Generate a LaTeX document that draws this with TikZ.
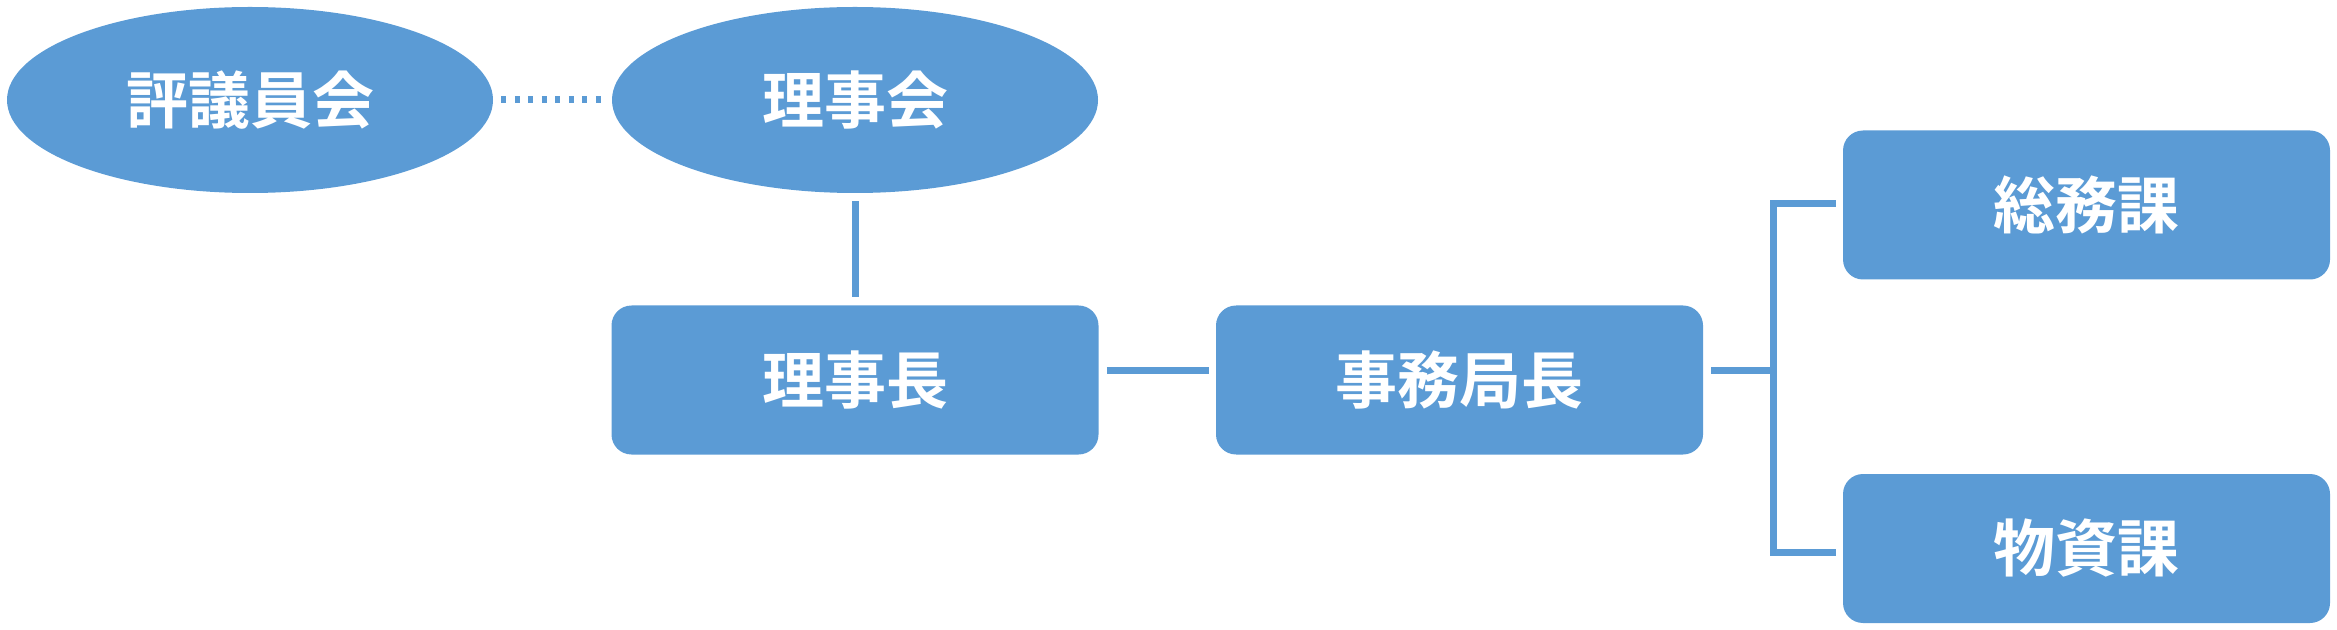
\documentclass[tikz,border=0pt]{standalone}
\usepackage{fontspec}
\newfontfamily\cjk{Noto Sans CJK JP Bold}
\usetikzlibrary{shapes.geometric}
\definecolor{obl}{HTML}{5B9BD5}
\begin{document}
\begin{tikzpicture}[x=0.5pt,y=-0.5pt,
  oval/.style={ellipse,fill=obl,draw=none,inner sep=0pt,minimum width=243pt,minimum height=93pt,text=white,font=\cjk\fontsize{31pt}{31pt}\selectfont},
  rbox/.style={rectangle,rounded corners=10pt,fill=obl,draw=none,inner sep=0pt,minimum width=243.5pt,minimum height=74.5pt,text=white,font=\cjk\fontsize{31pt}{31pt}\selectfont},
  conn/.style={draw=obl,line width=3.5pt},
  dotconn/.style={draw=obl,line width=3.5pt,dash pattern=on 2.4pt off 4.35pt}]
\useasboundingbox (0,0) rectangle (2337,630);
\node[oval] (hy) at (250,100) {評議員会};
\node[oval] (ri) at (855,100) {理事会};
\node[rbox] (rc) at (855,380) {理事長};
\node[rbox] (jm) at (1459.5,380) {事務局長};
\node[rbox] (sm) at (2086.5,205) {総務課};
\node[rbox] (bs) at (2086.5,548.5) {物資課};
\coordinate (j) at (1773,370);
\coordinate (ta) at ([xshift=-3.5pt,yshift=0.5pt]sm.west);
\coordinate (ba) at ([xshift=-3.5pt,yshift=-1.75pt]bs.west);
\draw[dotconn] ([xshift=4pt]hy.east) -- ([xshift=-5pt]ri.west);
\draw[conn] ([yshift=-4pt]ri.south) -- ([yshift=4pt]rc.north);
\draw[conn] ([xshift=4pt,yshift=5pt]rc.east) -- ([xshift=-3.5pt,yshift=5pt]jm.west);
\draw[conn] ([xshift=4pt,yshift=5pt]jm.east) -- (j);
\draw[conn] (ta) -- (ta -| j) -- (ba -| j) -- (ba);
\end{tikzpicture}
\end{document}
